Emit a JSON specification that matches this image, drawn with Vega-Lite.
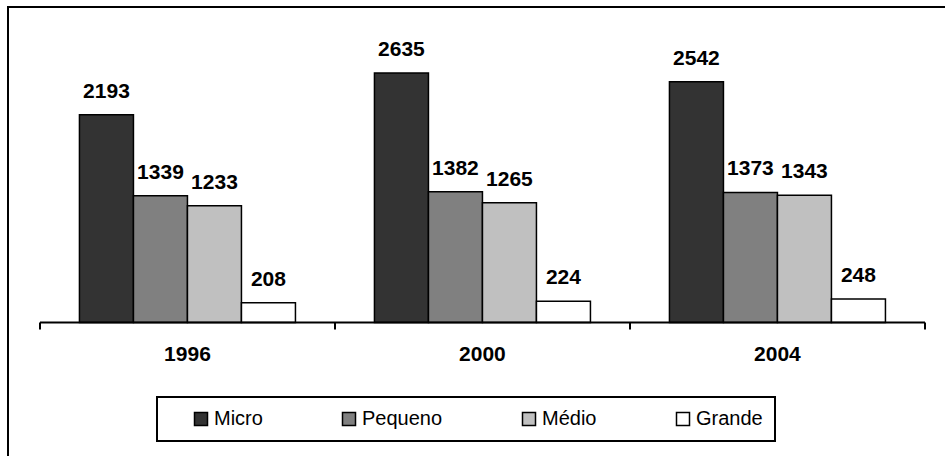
{
  "$schema": "https://vega.github.io/schema/vega-lite/v6.json",
  "width": 945,
  "height": 460,
  "padding": {"left": 8, "top": 7, "right": 0, "bottom": 0},
  "autosize": {"type": "none"},
  "background": "white",
  "config": {
    "view": {"stroke": "black", "strokeWidth": 2},
    "font": "Arial, 'Liberation Sans', sans-serif",
    "legend": {"strokeWidth": 2}
  },
  "layer": [
    {
      "data": {
        "values": [
          {"year": "1996", "size": "Micro", "value": 2193},
          {"year": "1996", "size": "Pequeno", "value": 1339},
          {"year": "1996", "size": "Médio", "value": 1233},
          {"year": "1996", "size": "Grande", "value": 208},
          {"year": "2000", "size": "Micro", "value": 2635},
          {"year": "2000", "size": "Pequeno", "value": 1382},
          {"year": "2000", "size": "Médio", "value": 1265},
          {"year": "2000", "size": "Grande", "value": 224},
          {"year": "2004", "size": "Micro", "value": 2542},
          {"year": "2004", "size": "Pequeno", "value": 1373},
          {"year": "2004", "size": "Médio", "value": 1343},
          {"year": "2004", "size": "Grande", "value": 248}
        ]
      },
      "encoding": {
        "x": {
          "field": "year",
          "type": "nominal",
          "scale": {"paddingInner": 0.2678, "paddingOuter": 0.2356, "align": 0.514},
          "axis": {
            "orient": "bottom",
            "offset": -144,
            "domain": false,
            "ticks": false,
            "grid": false,
            "title": null,
            "labelAngle": 0,
            "labelPadding": 20,
            "labelFontSize": 21,
            "labelFontWeight": "bold",
            "labelFont": "Arial, 'Liberation Sans', sans-serif",
            "labelColor": "black"
          }
        },
        "xOffset": {
          "field": "size",
          "type": "nominal",
          "sort": ["Micro", "Pequeno", "Médio", "Grande"],
          "scale": {"paddingInner": 0, "paddingOuter": 0}
        },
        "y": {
          "field": "value",
          "type": "quantitative",
          "stack": false,
          "scale": {"domain": [-1526, 3332], "nice": false, "zero": false},
          "axis": null
        }
      },
      "layer": [
        {
          "mark": {"type": "bar", "stroke": "black", "strokeWidth": 1.5},
          "encoding": {
            "fill": {
              "field": "size",
              "type": "nominal",
              "sort": ["Micro", "Pequeno", "Médio", "Grande"],
              "scale": {
                "domain": ["Micro", "Pequeno", "Médio", "Grande"],
                "range": ["#333333", "#808080", "#c0c0c0", "#ffffff"]
              },
              "legend": {
                "orient": "none",
                "legendX": 149,
                "legendY": 390,
                "direction": "horizontal",
                "title": "\u2003",
                "titleOrient": "right",
                "titleFontSize": 20,
                "titlePadding": 0,
                "strokeColor": "black",
                "padding": 12,
                "symbolType": "square",
                "symbolSize": 169,
                "symbolStrokeColor": "black",
                "symbolStrokeWidth": 1.5,
                "symbolOffset": 22,
                "labelFont": "Arial, 'Liberation Sans', sans-serif",
                "labelFontSize": 20,
                "labelColor": "black",
                "labelOffset": 3,
                "columnPadding": 54
              }
            }
          }
        },
        {
          "mark": {
            "type": "text",
            "baseline": "alphabetic",
            "dy": -17,
            "fontSize": 21,
            "fontWeight": "bold",
            "font": "Arial, 'Liberation Sans', sans-serif",
            "color": "black"
          },
          "encoding": {"text": {"field": "value", "type": "quantitative"}}
        }
      ]
    },
    {
      "data": {"values": [{"p": 0, "q": 3, "t": 0, "b": -74}, {"p": 1, "q": 1, "t": 0, "b": -74}, {"p": 2, "q": 2, "t": 0, "b": -74}, {"p": 3, "q": 3, "t": 0, "b": -74}]},
      "layer": [
        {
          "transform": [{"filter": "datum.p == 0"}],
          "mark": {"type": "rule", "color": "black", "strokeWidth": 2},
          "encoding": {
            "x": {"field": "p", "type": "quantitative", "scale": {"domain": [-0.10847, 3.0949], "nice": false, "zero": false}, "axis": null},
            "x2": {"field": "q"},
            "y": {"field": "t", "type": "quantitative", "scale": {"domain": [-1526, 3332], "nice": false, "zero": false}, "axis": null}
          }
        },
        {
          "mark": {"type": "rule", "color": "black", "strokeWidth": 2},
          "encoding": {
            "x": {"field": "p", "type": "quantitative", "scale": {"domain": [-0.10847, 3.0949], "nice": false, "zero": false}, "axis": null},
            "y": {"field": "t", "type": "quantitative", "scale": {"domain": [-1526, 3332], "nice": false, "zero": false}, "axis": null},
            "y2": {"field": "b"}
          }
        }
      ]
    }
  ],
  "resolve": {"scale": {"x": "independent"}}
}
